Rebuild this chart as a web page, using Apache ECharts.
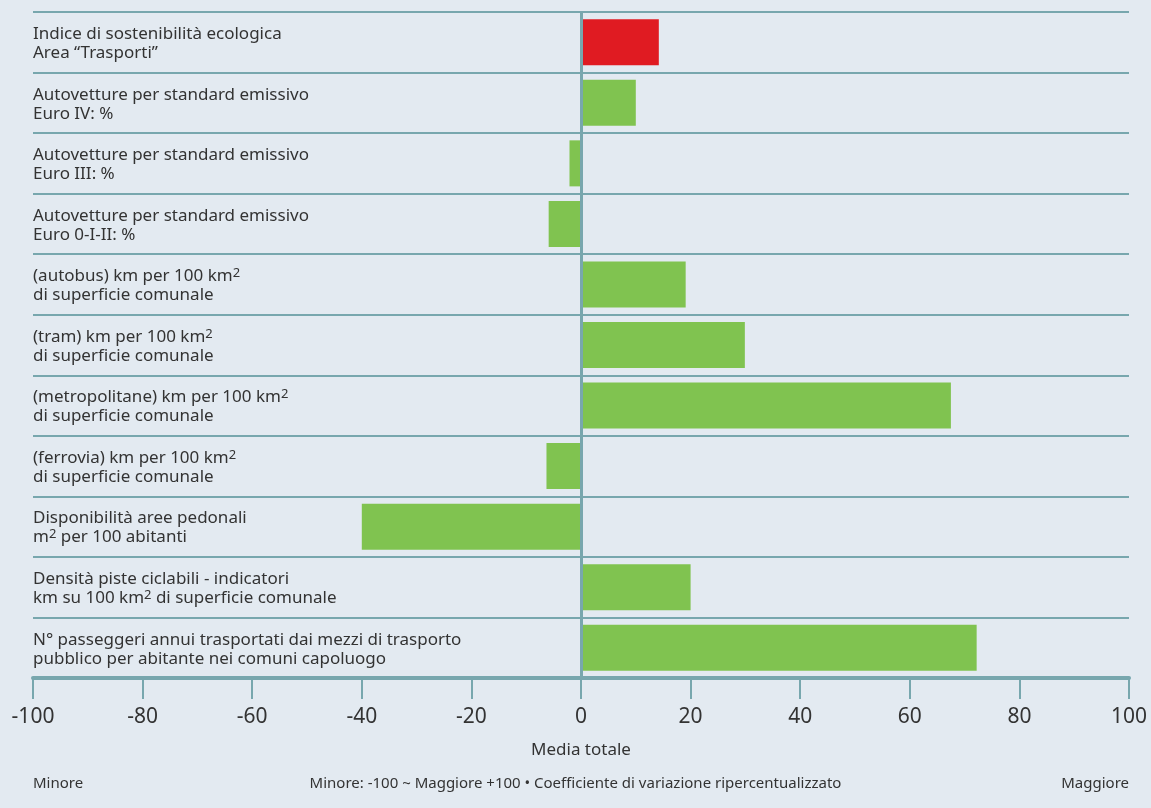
<!DOCTYPE html>
<html>
  <head>
    <meta charset="UTF-8" />
    <title>Indice di sostenibilità ecologica - Trasporti</title>
    <style>
      html, body { margin: 0; padding: 0; background: #e3eaf1; }
      #chart { width: 1151px; height: 808px; }
    </style>
    <script type="text/javascript" src="https://cdn.jsdelivr.net/npm/echarts@6/dist/echarts.min.js"></script>
  </head>
  <body>
    <div id="chart"></div>
    <script>
      var categories = [
        "Indice di sostenibilità ecologica\nArea “Trasporti”",
        "Autovetture per standard emissivo\nEuro IV: %",
        "Autovetture per standard emissivo\nEuro III: %",
        "Autovetture per standard emissivo\nEuro 0-I-II: %",
        "(autobus) km per 100 km²\ndi superficie comunale",
        "(tram) km per 100 km²\ndi superficie comunale",
        "(metropolitane) km per 100 km²\ndi superficie comunale",
        "(ferrovia) km per 100 km²\ndi superficie comunale",
        "Disponibilità aree pedonali\nm² per 100 abitanti",
        "Densità piste ciclabili - indicatori\nkm su 100 km² di superficie comunale",
        "N° passeggeri annui trasportati dai mezzi di trasporto\npubblico per abitante nei comuni capoluogo"
      ];

      var values = [14.2, 10, -2.1, -5.9, 19.1, 29.9, 67.5, -6.3, -40, 20, 72.2];

      var axisName = "Media totale";
      var footerLeft = "Minore";
      var footerCenter = "Minore: -100 ~ Maggiore +100 • Coefficiente di variazione ripercentualizzato";
      var footerRight = "Maggiore";

      var lineColor = "#78a7ae";
      var textColor = "#333333";
      var font = "'Noto Sans', 'Open Sans', sans-serif";

      var myChart = echarts.init(document.getElementById("chart"));

      var option = {
        backgroundColor: "#e3eaf1",
        animation: false,
        grid: { left: 33, right: 22, top: 12, bottom: 130 },
        xAxis: {
          type: "value",
          min: -100,
          max: 100,
          interval: 20,
          name: axisName,
          nameLocation: "middle",
          nameGap: 64,
          nameTextStyle: { color: textColor, fontSize: 17, fontFamily: font },
          axisLine: { show: true, lineStyle: { color: lineColor, width: 4 } },
          axisTick: { show: true, length: 21, lineStyle: { color: lineColor, width: 2 } },
          axisLabel: { color: textColor, fontSize: 21, fontFamily: font, margin: 29 },
          splitLine: { show: false }
        },
        yAxis: {
          type: "category",
          inverse: true,
          data: categories,
          axisLine: { show: false, onZero: false },
          axisTick: { show: false },
          splitLine: { show: true, lineStyle: { color: lineColor, width: 2 } },
          axisLabel: {
            inside: true,
            margin: 0,
            color: textColor,
            fontSize: 17,
            lineHeight: 19,
            padding: [3, 0, 0, 0],
            fontFamily: font,
            formatter: function (v) {
              return v.replace(/²/g, "{sup|2}");
            },
            rich: {
              sup: { fontSize: 13, lineHeight: 14, verticalAlign: "top", color: textColor, fontFamily: font }
            }
          }
        },
        series: [
          {
            type: "bar",
            data: values,
            barCategoryGap: "24%",
            itemStyle: {
              color: function (p) {
                return p.dataIndex === 0 ? "#e01b22" : "#80c350";
              }
            },
            markLine: {
              silent: true,
              symbol: "none",
              label: { show: false },
              lineStyle: { color: lineColor, width: 3, type: "solid" },
              data: [{ xAxis: 0 }]
            }
          }
        ],
        graphic: [
          { type: "text", left: 33, top: 776, style: { text: footerLeft, fill: textColor, font: "15px " + font } },
          { type: "text", left: "center", top: 776, style: { text: footerCenter, fill: textColor, font: "15px " + font } },
          { type: "text", right: 22, top: 776, style: { text: footerRight, fill: textColor, font: "15px " + font } }
        ]
      };

      myChart.setOption(option);
    </script>
  </body>
</html>
